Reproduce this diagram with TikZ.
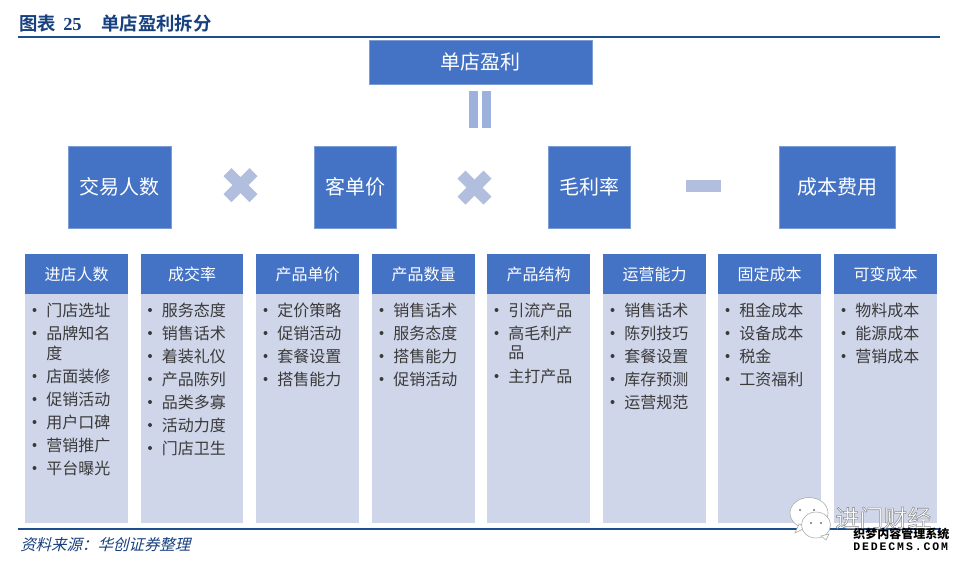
\documentclass[tikz,border=0pt]{standalone}
\usepackage{fontspec}
\setmainfont{Noto Sans CJK SC}
\newfontfamily\titlefont{Noto Sans CJK SC}[BoldFont={Noto Sans CJK SC Bold}]
\newfontfamily\serifnum{Liberation Serif}
\newfontfamily\slantfont{Noto Sans CJK SC}[FakeSlant=0.25]
\newfontfamily\wmmono{Liberation Mono}
\definecolor{mainblue}{HTML}{4472C4}
\definecolor{paleblue}{HTML}{D0D6E9}
\definecolor{opblue}{HTML}{B1BEDD}
\definecolor{barblue}{HTML}{9DB1DD}
\definecolor{rulecol}{HTML}{1F4E8C}
\definecolor{titlecol}{HTML}{17407F}
\definecolor{listcol}{HTML}{3A3A3A}
\tikzset{
  x=0.75pt,y=-0.75pt,
  bigbox/.style={fill=mainblue,draw=mainblue!70!white,line width=0.4pt,text=white,font=\fontsize{15}{15}\selectfont,inner sep=0pt,anchor=center},
  headbox/.style={fill=mainblue,text=white,font=\fontsize{12}{12}\selectfont,inner sep=0pt,minimum height=30pt,minimum width=76.9pt,anchor=north west},
  bodybox/.style={fill=paleblue,inner sep=0pt,minimum width=76.9pt,minimum height=171.5pt,anchor=north west},
  listtext/.style={text=listcol,font=\fontsize{12}{12}\selectfont,inner sep=0pt,anchor=west},
  dotmark/.style={circle,fill=listcol,inner sep=0pt,minimum size=3pt},
  opshape/.style={fill=opblue},
  rulelink/.style={rulecol,line width=1.4pt},
}
% #1 name, #2 left x, #3 header
\newcommand{\colhead}[3]{%
  \node[bodybox] (#1b) at (#2,294) {};
  \node[headbox] (#1h) at (#2,254) {#3};
}
% #1 left x, #2 y, #3 text, #4 name
\newcommand{\bul}[4]{%
  \node[dotmark] (#4d) at (#1+9.5,#2) {};
  \node[listtext] (#4) at (#1+21,#2) {#3};
}
\newcommand{\wrapline}[4]{\node[listtext] (#4) at (#1+21,#2) {#3};}
\begin{document}
\begin{tikzpicture}
\useasboundingbox (0,0) rectangle (962,562);
\fill[white] (0,0) rectangle (962,562);
% title
\node[anchor=west,inner sep=0pt,text=titlecol,font=\fontsize{13.8}{14}\titlefont\bfseries] (ttlA) at (19,24) {图表};
\node[anchor=west,inner sep=0pt,text=titlecol,font=\fontsize{13.8}{14}\serifnum\bfseries] (ttlB) at (63,24) {25};
\node[anchor=west,inner sep=0pt,text=titlecol,font=\fontsize{13.8}{14}\titlefont\bfseries] (ttlC) at (101,24) {单店盈利拆分};
\coordinate (ruleTL) at (18,37); \coordinate (ruleTR) at (940,37);
\draw[rulelink] (ruleTL) -- (ruleTR);
% top
\node[bigbox,minimum width=167pt,minimum height=33pt] (profit) at (480.5,62) {单店盈利};
\fill[barblue] (469,91) rectangle (478,128);
\fill[barblue] (482,91) rectangle (491,128);
% factors
\node[bigbox,minimum width=77pt,minimum height=61.5pt] (people) at (119.5,187) {交易人数};
\node[bigbox,minimum width=61.5pt,minimum height=61.5pt] (price) at (355,187) {客单价};
\node[bigbox,minimum width=61.5pt,minimum height=61.5pt] (margin) at (589,187) {毛利率};
\node[bigbox,minimum width=87pt,minimum height=61.5pt] (cost) at (837,187) {成本费用};
% operators
\foreach \cx/\cy in {240.5/185,474.5/187.5}{
  \fill[opshape,shift={(\cx,\cy)}] (-9,-17) -- (0,-8) -- (9,-17) -- (17,-9) -- (8,0) -- (17,9) -- (9,17) -- (0,8) -- (-9,17) -- (-17,9) -- (-8,0) -- (-17,-9) -- cycle;
}
\fill[opshape] (686,180) rectangle (721,192);
% columns
\colhead{c1}{25}{进店人数}
\colhead{c2}{140.5}{成交率}
\colhead{c3}{256}{产品单价}
\colhead{c4}{372}{产品数量}
\colhead{c5}{487}{产品结构}
\colhead{c6}{603}{运营能力}
\colhead{c7}{718}{固定成本}
\colhead{c8}{834}{可变成本}
% col 1
\bul{25}{310}{门店选址}{a1}
\bul{25}{333}{品牌知名}{a2}
\wrapline{25}{353}{度}{a2w}
\bul{25}{376}{店面装修}{a3}
\bul{25}{399}{促销活动}{a4}
\bul{25}{422}{用户口碑}{a5}
\bul{25}{445}{营销推广}{a6}
\bul{25}{468}{平台曝光}{a7}
% col 2
\bul{140.5}{310}{服务态度}{b1}
\bul{140.5}{333}{销售话术}{b2}
\bul{140.5}{356}{着装礼仪}{b3}
\bul{140.5}{379}{产品陈列}{b4}
\bul{140.5}{402}{品类多寡}{b5}
\bul{140.5}{425}{活动力度}{b6}
\bul{140.5}{448}{门店卫生}{b7}
% col 3
\bul{256}{310}{定价策略}{d1}
\bul{256}{333}{促销活动}{d2}
\bul{256}{356}{套餐设置}{d3}
\bul{256}{379}{搭售能力}{d4}
% col 4
\bul{372}{310}{销售话术}{e1}
\bul{372}{333}{服务态度}{e2}
\bul{372}{356}{搭售能力}{e3}
\bul{372}{379}{促销活动}{e4}
% col 5
\bul{487}{310}{引流产品}{f1}
\bul{487}{333}{高毛利产}{f2}
\wrapline{487}{353}{品}{f2w}
\bul{487}{376}{主打产品}{f3}
% col 6
\bul{603}{310}{销售话术}{g1}
\bul{603}{333}{陈列技巧}{g2}
\bul{603}{356}{套餐设置}{g3}
\bul{603}{379}{库存预测}{g4}
\bul{603}{402}{运营规范}{g5}
% col 7
\bul{718}{310}{租金成本}{h1}
\bul{718}{333}{设备成本}{h2}
\bul{718}{356}{税金}{h3}
\bul{718}{379}{工资福利}{h4}
% col 8
\bul{834}{310}{物料成本}{i1}
\bul{834}{333}{能源成本}{i2}
\bul{834}{356}{营销成本}{i3}
% bottom
\coordinate (ruleBL) at (18,529); \coordinate (ruleBR) at (940,529);
\draw[rulelink] (ruleBL) -- (ruleBR);
\node[anchor=west,inner sep=0pt,text=titlecol,font=\fontsize{11.6}{12}\slantfont] (src) at (20,545) {资料来源：华创证券整理};
% watermark
\fill[white,draw=black!35,line width=0.4pt] (809,513) ellipse (19 and 15.5);
\fill[white,draw=black!35,line width=0.4pt] (799,524) -- (795,533) -- (807,527) -- cycle;
\fill[white,draw=black!35,line width=0.4pt] (816,525) ellipse (14.5 and 13);
\fill[white,draw=black!35,line width=0.4pt] (821,536) -- (826,540) -- (829,534) -- cycle;
\fill[black!55] (800,510) circle (1.2) (814,510) circle (1.2) (811,523) circle (1.1) (821,523) circle (1.1);
\node[anchor=west,inner sep=0pt,font=\fontsize{18}{18}\selectfont,text=white] (wmA) at (835,518) {\special{pdf:code 2 Tr 0.4 w 0.55 0.55 0.55 RG}进门财经\special{pdf:code 0 Tr}};
\node[anchor=west,inner sep=0pt,text=black,font=\fontsize{9}{9}\selectfont\bfseries] (wmB) at (853,534) {织梦内容管理系统};
\node[anchor=west,inner sep=0pt,text=black,font=\fontsize{8.6}{9}\wmmono\bfseries] (wmC) at (853,547) {D\,E\,D\,E\,C\,M\,S\,.\,C\,O\,M};
\end{tikzpicture}
\end{document}
